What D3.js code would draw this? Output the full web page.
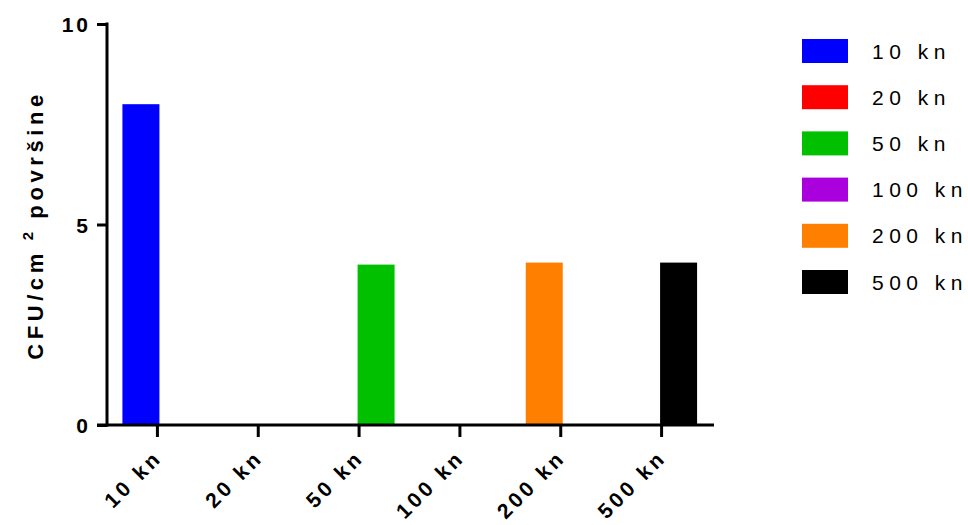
<!doctype html>
<html lang="en">
<head>
	<meta charset="utf-8">
	<title>CFU</title>
	<script src="https://d3js.org/d3.v7.min.js"></script>
	<style>
		body { margin: 0; background: #fff; }
		text { font-family: "Liberation Sans", Arial, sans-serif; }
	</style>
</head>
<body>
	<script>
		var width = 968;
		var height = 525;

		// data
		var categories = ["10 kn", "20 kn", "50 kn", "100 kn", "200 kn", "500 kn"];
		var values = [8.0, 0, 4.0, 0, 4.05, 4.05];
		var colors = ["#0000ff", "#ff0000", "#00c000", "#aa00dd", "#ff8000", "#000000"];
		var yTicks = [0, 5, 10];

		var svg = d3.select("body").append("svg")
			.attr("width", width)
			.attr("height", height);

		var x = d3.scaleBand().domain(categories).range([107, 712]);
		var y = d3.scaleLinear().domain([0, 10]).range([425, 24]);
		var barW = 37;

		// the drawn bars sit alternately left and right of their tick
		var side = [];
		var n = 0;
		values.forEach(function(v) {
			side.push(n % 2 === 0 ? "left" : "right");
			if (v > 0) n++;
		});

		svg.selectAll("rect.bar")
			.data(values)
			.enter()
			.append("rect")
			.attr("class", "bar")
			.attr("x", function(d, i) {
				var c = x(categories[i]) + x.bandwidth() / 2;
				return side[i] === "left" ? c - barW + 2 : c - 1.5;
			})
			.attr("y", function(d) { return y(d); })
			.attr("width", barW)
			.attr("height", function(d) { return y(0) - y(d); })
			.style("fill", function(d, i) { return colors[i]; });

		// y axis
		var yAxis = svg.append("g")
			.attr("transform", "translate(107,0)")
			.call(d3.axisLeft(y).tickValues(yTicks).tickSize(10).tickSizeOuter(0));
		yAxis.select(".domain").attr("stroke-width", 3).attr("d", "M0," + (y(0) + 1.5) + "V" + (y(10) - 1.5));
		yAxis.selectAll(".tick line").attr("stroke-width", 3);
		yAxis.selectAll(".tick text")
			.attr("x", -16)
			.attr("dy", "0.36em")
			.style("font-size", "21px")
			.style("font-weight", "bold")
			.style("letter-spacing", "3px")
			.style("fill", "#000");

		// x axis
		var xAxis = svg.append("g")
			.attr("transform", "translate(0," + y(0) + ")")
			.call(d3.axisBottom(x).tickSize(12).tickSizeOuter(0));
		xAxis.select(".domain").attr("stroke-width", 3).attr("d", "M97,0H714");
		xAxis.selectAll(".tick line").attr("stroke-width", 3);
		xAxis.selectAll(".tick text")
			.attr("y", 0)
			.attr("dy", 0)
			.attr("text-anchor", "end")
			.attr("transform", "translate(6,34) rotate(-45)")
			.style("font-size", "21px")
			.style("font-weight", "bold")
			.style("letter-spacing", "3.5px")
			.style("fill", "#000");

		// y title
		var title = svg.append("text")
			.attr("transform", "translate(43,225) rotate(-90)")
			.attr("text-anchor", "middle")
			.style("font-size", "22px")
			.style("font-weight", "bold")
			.style("letter-spacing", "4.6px");
		title.append("tspan").text("CFU/cm");
		title.append("tspan").attr("dy", -10).style("font-size", "15px").text(" 2 ");
		title.append("tspan").attr("dy", 10).text("površine");

		// legend
		var legend = svg.append("g")
			.selectAll("g")
			.data(categories)
			.enter()
			.append("g")
			.attr("transform", function(d, i) { return "translate(802," + (51 + i * 46.2) + ")"; });

		legend.append("rect")
			.attr("x", 0)
			.attr("y", -12)
			.attr("width", 46)
			.attr("height", 24)
			.style("fill", function(d, i) { return colors[i]; });

		legend.append("text")
			.attr("x", 70)
			.attr("dy", "0.36em")
			.style("font-size", "21px")
			.style("letter-spacing", "5.5px")
			.text(function(d) { return d; });
	</script>
</body>
</html>
